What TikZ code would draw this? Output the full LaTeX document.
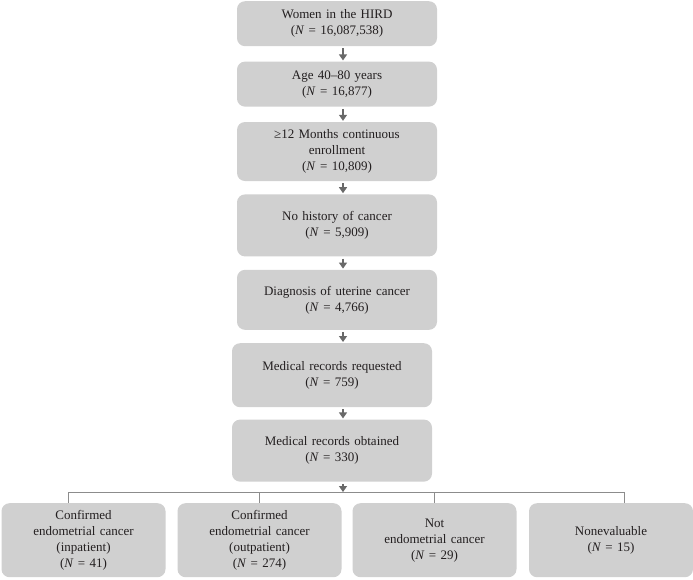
\documentclass[tikz,border=0pt]{standalone}
\usepackage{fontspec}
\setmainfont{Liberation Serif}
\usetikzlibrary{arrows.meta,
                positioning}
\definecolor{boxgray}{RGB}{208,208,208}
\definecolor{arrowgray}{RGB}{105,105,105}
\definecolor{busgray}{RGB}{140,140,140}
\definecolor{inkgray}{RGB}{35,31,32}
\tikzset{stepbox/.style=
   {rectangle,
    fill=boxgray,
    text=inkgray,
    rounded corners=8pt,
    align=center,
    font=\fontsize{13}{16}\selectfont,
    minimum width=200pt,
    text width=186pt}}
\tikzset{leafbox/.style=
   {stepbox,
    minimum width=164pt,
    minimum height=74pt,
    text width=156pt}}
\tikzset{arrow/.style =
   {draw=arrowgray,
    line width=1.3pt,
    shorten <=2pt,
    shorten >=1pt,
    -{Triangle[width=8pt,length=6pt]}}}
\tikzset{busline/.style = {draw=busgray, line width=0.9pt}}

\begin{document}
\begin{tikzpicture}[auto, node distance=13pt]

    \useasboundingbox (0,0) rectangle (693pt,-579pt);

    \node [stepbox,
           minimum height=45pt,
           anchor=north] (hird) at (337pt,-1pt)
    {Women in the HIRD\\(\textit{N} = 16,087,538)};

    \node [stepbox,
           minimum height=45pt,
           node distance=15pt,
           below = of hird] (age)
    {Age 40–80 years\\(\textit{N} = 16,877)};

    \node [stepbox,
           minimum height=59pt,
           node distance=15pt,
           below = of age] (enrol)
    {≥12 Months continuous\\enrollment\\(\textit{N} = 10,809)};

    \node [stepbox,
           minimum height=62pt,
           below = of enrol] (nohist)
    {No history of cancer\\(\textit{N} = 5,909)};

    \node [stepbox,
           minimum height=60pt,
           below = of nohist] (uterine)
    {Diagnosis of uterine cancer\\(\textit{N} = 4,766)};

    \node [stepbox,
           minimum height=64pt,
           below = of uterine,
           xshift=-5pt] (requested)
    {Medical records requested\\(\textit{N} = 759)};

    \node [stepbox,
           minimum height=62pt,
           node distance=12pt,
           below = of requested] (obtained)
    {Medical records obtained\\(\textit{N} = 330)};

    % outcome row
    \node [leafbox, anchor=north] (inpat) at (83.5pt,-503pt)
    {Confirmed\\endometrial cancer\\(inpatient)\\(\textit{N} = 41)};

    \node [leafbox, anchor=north] (outpat) at (259.5pt,-503pt)
    {Confirmed\\endometrial cancer\\(outpatient)\\(\textit{N} = 274)};

    \node [leafbox, anchor=north] (notendo) at (434.5pt,-503pt)
    {Not\\endometrial cancer\\(\textit{N} = 29)};

    \node [leafbox, anchor=north] (noneval) at (611pt,-503pt)
    {Nonevaluable\\(\textit{N} = 15)};

    \coordinate (spine) at (343pt,0pt);
    \coordinate (busL) at (68pt,-492pt);
    \coordinate (busR) at (624pt,-492pt);
    \coordinate (busM) at (343pt,-492pt);

    \draw[arrow] (hird.south -| spine) -- (age.north -| spine);
    \draw[arrow] (age.south -| spine) -- (enrol.north -| spine);
    \draw[arrow] (enrol.south -| spine) -- (nohist.north -| spine);
    \draw[arrow] (nohist.south -| spine) -- (uterine.north -| spine);
    \draw[arrow] (uterine.south -| spine) -- (requested.north -| spine);
    \draw[arrow] (requested.south -| spine) -- (obtained.north -| spine);

    \draw[busline] (busL) -- (busR);
    \draw[busline] (busL) -- (inpat.north -| busL);
    \draw[busline] (outpat.north |- busL) -- (outpat.north);
    \draw[busline] (notendo.north |- busL) -- (notendo.north);
    \draw[busline] (busR) -- (noneval.north -| busR);
    \draw[arrow, shorten >=0pt] (obtained.south -| spine) -- (busM);

\end{tikzpicture}
\end{document}
